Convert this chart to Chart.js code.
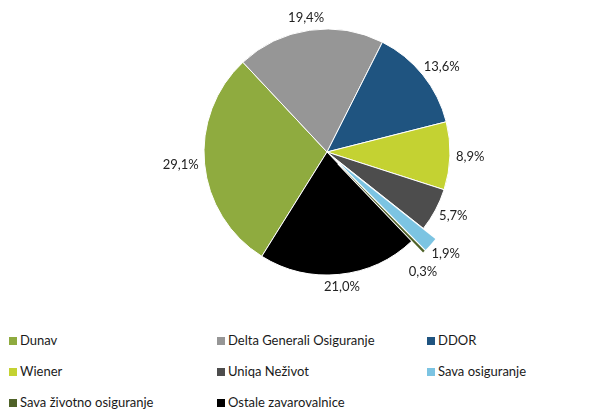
<!DOCTYPE html>
<html>
<head>
<meta charset="utf-8">
<script src="https://cdn.jsdelivr.net/npm/chart.js@4"></script>
<style>
  body { margin: 0; background: #fff; font-family: Lato, "Open Sans", sans-serif; }
  #wrap { position: relative; width: 614px; height: 411px; }
  #chartBox { position: absolute; left: 0; top: 0; width: 614px; height: 310px; }
  #legend { position: absolute; left: 0; top: 332px; width: 614px; }
  .leg-item { position: absolute; font-size: 13px; color: #1a1a1a; white-space: nowrap; line-height: 16px; }
  .leg-box { display: inline-block; width: 8px; height: 8px; margin-right: 3px; vertical-align: 0px; }
</style>
</head>
<body>
<div id="wrap">
  <div id="chartBox"><canvas id="pie"></canvas></div>
  <div id="legend"></div>
</div>
<script>
const companies = ['Dunav', 'Delta Generali Osiguranje', 'DDOR', 'Wiener', 'Uniqa Neživot',
    'Sava osiguranje', 'Sava životno osiguranje', 'Ostale zavarovalnice'];
const shares = [29.1, 19.4, 13.6, 8.9, 5.7, 1.9, 0.3, 21.0];
const colors = ['#8fab3f', '#969696', '#1f5480', '#c4d232', '#4d4d4d', '#7cc4e2', '#4f6228', '#000000'];
const pulledOut = [false, false, false, false, false, true, true, false];
const PULL = 16;

function fmt(v) {
    return v.toFixed(1).replace('.', ',') + '%';
}

// chart.js' own offset shrinks very thin slices, so the pulled out ones
// are left empty by the chart and painted here, moved along their middle angle
const explodeSlices = {
    id: 'explodeSlices',
    afterDatasetsDraw(chart) {
        const ctx = chart.ctx;
        const meta = chart.getDatasetMeta(0);
        meta.data.forEach(function(arc, i) {
            if (!pulledOut[i]) return;
            const mid = (arc.startAngle + arc.endAngle) / 2;
            ctx.save();
            ctx.translate(Math.cos(mid) * PULL, Math.sin(mid) * PULL);
            ctx.beginPath();
            ctx.moveTo(arc.x, arc.y);
            ctx.arc(arc.x, arc.y, arc.outerRadius, arc.startAngle, arc.endAngle);
            ctx.closePath();
            // stroke first so the white edge only shows outside the fill
            ctx.lineWidth = 2;
            ctx.strokeStyle = '#ffffff';
            ctx.stroke();
            ctx.fillStyle = colors[i];
            ctx.fill();
            ctx.restore();
        });
    }
};

// percentage labels just outside each slice, moved below the previous one if they collide
const outsideLabels = {
    id: 'outsideLabels',
    afterDatasetsDraw(chart) {
        const ctx = chart.ctx;
        const meta = chart.getDatasetMeta(0);
        ctx.save();
        ctx.font = '13px Lato, "Open Sans", sans-serif';
        ctx.fillStyle = '#222';
        ctx.textAlign = 'center';
        ctx.textBaseline = 'middle';
        let prev = null;
        meta.data.forEach(function(arc, i) {
            const mid = (arc.startAngle + arc.endAngle) / 2;
            const r = arc.outerRadius + (pulledOut[i] ? PULL : 0) + 6;
            const cx = Math.cos(mid), sy = Math.sin(mid);
            const text = fmt(shares[i]);
            const w = ctx.measureText(text).width;
            const h = 14;
            let x = arc.x + cx * r + cx * w / 2;
            let y = arc.y + sy * r + sy * h / 2;
            if (prev && Math.abs(x - prev.x) < (w + prev.w) / 2 && Math.abs(y - prev.y) < h) {
                y = prev.y + h + 4;
                x = prev.x - w * 0.8;
            }
            ctx.fillText(text, x, y);
            prev = { x: x, y: y, w: w };
        });
        ctx.restore();
    }
};

new Chart(document.getElementById('pie'), {
    type: 'pie',
    data: {
        labels: companies,
        datasets: [{
            data: shares,
            backgroundColor: colors.map((c, i) => pulledOut[i] ? 'rgba(0,0,0,0)' : c),
            borderColor: '#ffffff',
            borderWidth: pulledOut.map(p => p ? 0 : 1)
        }]
    },
    options: {
        responsive: true,
        maintainAspectRatio: false,
        animation: false,
        rotation: 212,
        radius: 123,
        layout: { padding: { left: 40, right: 0, top: 4, bottom: 10 } },
        plugins: {
            legend: { display: false },
            tooltip: { enabled: false }
        }
    },
    plugins: [explodeSlices, outsideLabels]
});

// legend in three columns like the original
const legend = document.getElementById('legend');
const colX = [9, 217, 427];
const rowY = [0, 31, 62];
companies.forEach(function(name, i) {
    const item = document.createElement('div');
    item.className = 'leg-item';
    item.style.left = colX[i % 3] + 'px';
    item.style.top = rowY[Math.floor(i / 3)] + 'px';
    const box = document.createElement('span');
    box.className = 'leg-box';
    box.style.background = colors[i];
    item.appendChild(box);
    item.appendChild(document.createTextNode(name));
    legend.appendChild(item);
});
</script>
</body>
</html>
